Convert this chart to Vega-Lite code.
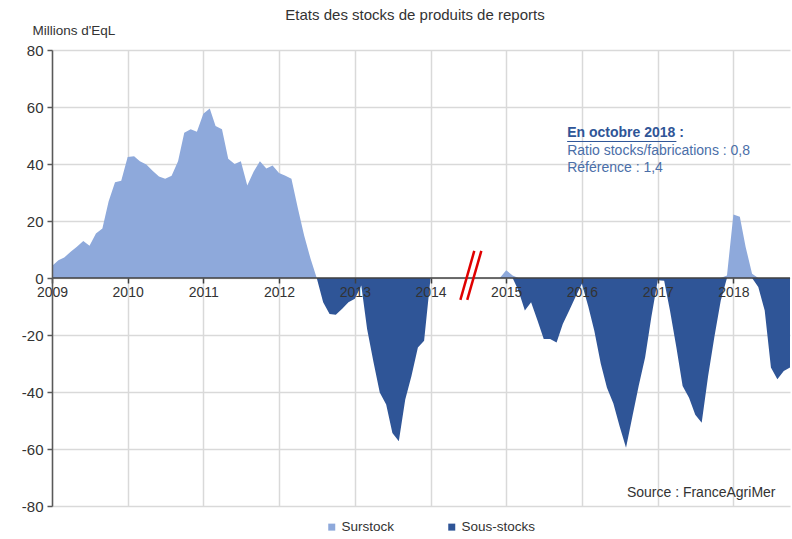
{
"$schema":"https://vega.github.io/schema/vega-lite/v6.json",
"width":738,"height":456,
"autosize":{"type":"none"},
"padding":{"left":52,"top":50,"right":2,"bottom":33},
"background":"white",
"config":{"font":"Liberation Sans","view":{"stroke":null}},
"title":{"text":"Etats des stocks de produits de reports","fontSize":15,"fontWeight":"normal","color":"#333333","anchor":"middle","frame":"group","offset":0,"dx":-6},
"datasets":{
"stocks":[
{"date":"2009-01-01","Surstock":4.2,"Sous-stocks":0},
{"date":"2009-02-01","Surstock":6.2,"Sous-stocks":0},
{"date":"2009-03-01","Surstock":7.2,"Sous-stocks":0},
{"date":"2009-04-01","Surstock":9.2,"Sous-stocks":0},
{"date":"2009-05-01","Surstock":11,"Sous-stocks":0},
{"date":"2009-06-01","Surstock":13,"Sous-stocks":0},
{"date":"2009-07-01","Surstock":11.3,"Sous-stocks":0},
{"date":"2009-08-01","Surstock":15.6,"Sous-stocks":0},
{"date":"2009-09-01","Surstock":17.4,"Sous-stocks":0},
{"date":"2009-10-01","Surstock":26.8,"Sous-stocks":0},
{"date":"2009-11-01","Surstock":33.6,"Sous-stocks":0},
{"date":"2009-12-01","Surstock":34.1,"Sous-stocks":0},
{"date":"2010-01-01","Surstock":42.5,"Sous-stocks":0},
{"date":"2010-02-01","Surstock":42.7,"Sous-stocks":0},
{"date":"2010-03-01","Surstock":41,"Sous-stocks":0},
{"date":"2010-04-01","Surstock":39.8,"Sous-stocks":0},
{"date":"2010-05-01","Surstock":37.6,"Sous-stocks":0},
{"date":"2010-06-01","Surstock":35.6,"Sous-stocks":0},
{"date":"2010-07-01","Surstock":34.8,"Sous-stocks":0},
{"date":"2010-08-01","Surstock":35.9,"Sous-stocks":0},
{"date":"2010-09-01","Surstock":41,"Sous-stocks":0},
{"date":"2010-10-01","Surstock":51,"Sous-stocks":0},
{"date":"2010-11-01","Surstock":52.2,"Sous-stocks":0},
{"date":"2010-12-01","Surstock":51.3,"Sous-stocks":0},
{"date":"2011-01-01","Surstock":57.6,"Sous-stocks":0},
{"date":"2011-02-01","Surstock":59.5,"Sous-stocks":0},
{"date":"2011-03-01","Surstock":53.3,"Sous-stocks":0},
{"date":"2011-04-01","Surstock":52.2,"Sous-stocks":0},
{"date":"2011-05-01","Surstock":41.8,"Sous-stocks":0},
{"date":"2011-06-01","Surstock":40,"Sous-stocks":0},
{"date":"2011-07-01","Surstock":41,"Sous-stocks":0},
{"date":"2011-08-01","Surstock":32.5,"Sous-stocks":0},
{"date":"2011-09-01","Surstock":37.4,"Sous-stocks":0},
{"date":"2011-10-01","Surstock":41,"Sous-stocks":0},
{"date":"2011-11-01","Surstock":38.4,"Sous-stocks":0},
{"date":"2011-12-01","Surstock":39.5,"Sous-stocks":0},
{"date":"2012-01-01","Surstock":36.8,"Sous-stocks":0},
{"date":"2012-02-01","Surstock":35.9,"Sous-stocks":0},
{"date":"2012-03-01","Surstock":34.8,"Sous-stocks":0},
{"date":"2012-04-01","Surstock":24.5,"Sous-stocks":0},
{"date":"2012-05-01","Surstock":15,"Sous-stocks":0},
{"date":"2012-06-01","Surstock":6.8,"Sous-stocks":0},
{"date":"2012-07-01","Surstock":0,"Sous-stocks":0},
{"date":"2012-08-01","Surstock":0,"Sous-stocks":-8.5},
{"date":"2012-09-01","Surstock":0,"Sous-stocks":-12.6},
{"date":"2012-10-01","Surstock":0,"Sous-stocks":-12.9},
{"date":"2012-11-01","Surstock":0,"Sous-stocks":-10.8},
{"date":"2012-12-01","Surstock":0,"Sous-stocks":-8.5},
{"date":"2013-01-01","Surstock":0,"Sous-stocks":-7.3},
{"date":"2013-02-01","Surstock":0,"Sous-stocks":-2.6},
{"date":"2013-03-01","Surstock":0,"Sous-stocks":-17.9},
{"date":"2013-04-01","Surstock":0,"Sous-stocks":-29.6},
{"date":"2013-05-01","Surstock":0,"Sous-stocks":-40.2},
{"date":"2013-06-01","Surstock":0,"Sous-stocks":-44.4},
{"date":"2013-07-01","Surstock":0,"Sous-stocks":-54.4},
{"date":"2013-08-01","Surstock":0,"Sous-stocks":-57.3},
{"date":"2013-09-01","Surstock":0,"Sous-stocks":-42.6},
{"date":"2013-10-01","Surstock":0,"Sous-stocks":-34.4},
{"date":"2013-11-01","Surstock":0,"Sous-stocks":-24.4},
{"date":"2013-12-01","Surstock":0,"Sous-stocks":-22},
{"date":"2014-01-01","Surstock":0,"Sous-stocks":0},
{"date":"2014-12-01","Surstock":0,"Sous-stocks":0},
{"date":"2015-01-01","Surstock":2.7,"Sous-stocks":0},
{"date":"2015-02-01","Surstock":0.9,"Sous-stocks":0},
{"date":"2015-03-01","Surstock":0,"Sous-stocks":-4.4},
{"date":"2015-04-01","Surstock":0,"Sous-stocks":-11.4},
{"date":"2015-05-01","Surstock":0,"Sous-stocks":-8.5},
{"date":"2015-06-01","Surstock":0,"Sous-stocks":-14.9},
{"date":"2015-07-01","Surstock":0,"Sous-stocks":-21.4},
{"date":"2015-08-01","Surstock":0,"Sous-stocks":-21.4},
{"date":"2015-09-01","Surstock":0,"Sous-stocks":-22.6},
{"date":"2015-10-01","Surstock":0,"Sous-stocks":-16.1},
{"date":"2015-11-01","Surstock":0,"Sous-stocks":-11.4},
{"date":"2015-12-01","Surstock":0,"Sous-stocks":-6.7},
{"date":"2016-01-01","Surstock":0,"Sous-stocks":-2},
{"date":"2016-02-01","Surstock":0,"Sous-stocks":-10},
{"date":"2016-03-01","Surstock":0,"Sous-stocks":-18.5},
{"date":"2016-04-01","Surstock":0,"Sous-stocks":-30},
{"date":"2016-05-01","Surstock":0,"Sous-stocks":-38.5},
{"date":"2016-06-01","Surstock":0,"Sous-stocks":-44},
{"date":"2016-07-01","Surstock":0,"Sous-stocks":-52},
{"date":"2016-08-01","Surstock":0,"Sous-stocks":-59.6},
{"date":"2016-09-01","Surstock":0,"Sous-stocks":-48.5},
{"date":"2016-10-01","Surstock":0,"Sous-stocks":-37.9},
{"date":"2016-11-01","Surstock":0,"Sous-stocks":-27.9},
{"date":"2016-12-01","Surstock":0,"Sous-stocks":-13.8},
{"date":"2017-01-01","Surstock":0,"Sous-stocks":-0.8},
{"date":"2017-02-01","Surstock":0,"Sous-stocks":-1},
{"date":"2017-03-01","Surstock":0,"Sous-stocks":-11.4},
{"date":"2017-04-01","Surstock":0,"Sous-stocks":-24.4},
{"date":"2017-05-01","Surstock":0,"Sous-stocks":-37.9},
{"date":"2017-06-01","Surstock":0,"Sous-stocks":-42},
{"date":"2017-07-01","Surstock":0,"Sous-stocks":-48},
{"date":"2017-08-01","Surstock":0,"Sous-stocks":-50.8},
{"date":"2017-09-01","Surstock":0,"Sous-stocks":-34.4},
{"date":"2017-10-01","Surstock":0,"Sous-stocks":-20.8},
{"date":"2017-11-01","Surstock":0,"Sous-stocks":-7.9},
{"date":"2017-12-01","Surstock":0.9,"Sous-stocks":0},
{"date":"2018-01-01","Surstock":22.3,"Sous-stocks":0},
{"date":"2018-02-01","Surstock":21.5,"Sous-stocks":0},
{"date":"2018-03-01","Surstock":10.9,"Sous-stocks":0},
{"date":"2018-04-01","Surstock":1.5,"Sous-stocks":0},
{"date":"2018-05-01","Surstock":0,"Sous-stocks":-3.2},
{"date":"2018-06-01","Surstock":0,"Sous-stocks":-11.4},
{"date":"2018-07-01","Surstock":0,"Sous-stocks":-31.4},
{"date":"2018-08-01","Surstock":0,"Sous-stocks":-35.5},
{"date":"2018-09-01","Surstock":0,"Sous-stocks":-32.6},
{"date":"2018-10-01","Surstock":0,"Sous-stocks":-31.4}
]
},
"resolve":{"axis":{"x":"independent","y":"independent"}},
"layer":[
{
"data":{"name":"stocks"},
"transform":[{"fold":["Surstock","Sous-stocks"],"as":["serie","valeur"]}],
"mark":{"type":"area","interpolate":"linear"},
"encoding":{
"x":{"field":"date","type":"temporal","scale":{"type":"utc","domain":[{"year":2009,"month":1,"date":1,"utc":true},{"year":2018,"month":10,"date":1,"utc":true}],"nice":false},
"axis":{"grid":true,"labels":false,"ticks":false,"domain":false,"title":null,"gridColor":"#d9d9d9","gridWidth":1.5,"tickCount":{"interval":"year","step":1},"zindex":0}},
"y":{"field":"valeur","type":"quantitative","stack":null,"scale":{"domain":[-80,80],"nice":false},
"axis":{"orient":"left","grid":true,"labels":false,"ticks":false,"domain":false,"title":null,"values":[-80,-60,-40,-20,0,20,40,60,80],"gridColor":"#d9d9d9","gridWidth":1.5,"zindex":0}},
"color":{"field":"serie","type":"nominal","scale":{"domain":["Surstock","Sous-stocks"],"range":["#8EA9DB","#2F5597"]},
"legend":{"title":null,"orient":"none","legendX":273,"legendY":470,"direction":"horizontal","symbolType":"square","symbolSize":49,"symbolStrokeWidth":0,"labelFontSize":13.5,"labelColor":"#333333","columnPadding":50,"labelOffset":3}}
}
},
{
"data":{"values":[{"zero":0}]},
"mark":{"type":"rule","color":"#404040","strokeWidth":1.5},
"encoding":{"y":{"field":"zero","type":"quantitative","axis":null}}
},
{
"data":{"values":[
{"date":"2014-05-25","date2":"2014-07-31","y1":-7.7,"y2":9.5},
{"date":"2014-06-27","date2":"2014-09-03","y1":-7.7,"y2":9.5}
]},
"mark":{"type":"rule","color":"#E00000","strokeWidth":2.5},
"encoding":{
"x":{"field":"date","type":"temporal","scale":{"type":"utc"},"axis":null},
"x2":{"field":"date2"},
"y":{"field":"y1","type":"quantitative","axis":null},
"y2":{"field":"y2"}
}
},
{
"data":{"values":[{"date":"2015-10-22","date2":"2017-04-01","valeur":47.9}]},
"mark":{"type":"rule","color":"#2F5597","strokeWidth":1},
"encoding":{
"x":{"field":"date","type":"temporal","scale":{"type":"utc"},"axis":null},
"x2":{"field":"date2"},
"y":{"field":"valeur","type":"quantitative","axis":null}
}
},
{
"data":{"values":[{"date":"2015-10-22","valeur":50.9,"texte":"En octobre 2018 :"}]},
"mark":{"type":"text","align":"left","baseline":"middle","fontSize":14,"fontWeight":"bold","color":"#2F5597"},
"encoding":{
"x":{"field":"date","type":"temporal","scale":{"type":"utc","domain":[{"year":2009,"month":1,"date":1,"utc":true},{"year":2018,"month":10,"date":1,"utc":true}],"nice":false},
"axis":{"orient":"bottom","offset":-228,"format":"%Y","tickCount":{"interval":"year","step":1},"grid":false,"domain":false,"ticks":true,"tickColor":"#404040","tickSize":5,"tickWidth":1.5,"labelFontSize":14,"labelColor":"#333333","labelPadding":2,"labelFlush":false,"title":null,"zindex":1}},
"y":{"field":"valeur","type":"quantitative",
"axis":{"orient":"left","values":[-80,-60,-40,-20,0,20,40,60,80],"labelExpr":"'' + datum.value","grid":false,"domainColor":"#595959","domainWidth":1.5,"tickColor":"#595959","tickSize":5,"tickWidth":1.5,"labelFontSize":15,"labelColor":"#333333","labelPadding":4,"title":"Millions d'EqL","titleAngle":0,"titleAlign":"left","titleBaseline":"middle","titleX":-20,"titleY":-20,"titleFontSize":13.5,"titleFontWeight":"normal","titleColor":"#333333","zindex":1}},
"text":{"field":"texte"}
}
},
{
"data":{"values":[
{"date":"2015-10-22","valeur":44.6,"texte":"Ratio stocks/fabrications : 0,8"},
{"date":"2015-10-22","valeur":38.6,"texte":"Référence : 1,4"}
]},
"mark":{"type":"text","align":"left","baseline":"middle","fontSize":14,"color":"#4A6EA8"},
"encoding":{
"x":{"field":"date","type":"temporal","scale":{"type":"utc"},"axis":null},
"y":{"field":"valeur","type":"quantitative","axis":null},
"text":{"field":"texte"}
}
},
{
"data":{"values":[{"date":"2018-07-23","valeur":-75.4,"texte":"Source : FranceAgriMer"}]},
"mark":{"type":"text","align":"right","baseline":"middle","fontSize":14,"color":"#333333"},
"encoding":{
"x":{"field":"date","type":"temporal","scale":{"type":"utc"},"axis":null},
"y":{"field":"valeur","type":"quantitative","axis":null},
"text":{"field":"texte"}
}
}
]
}
